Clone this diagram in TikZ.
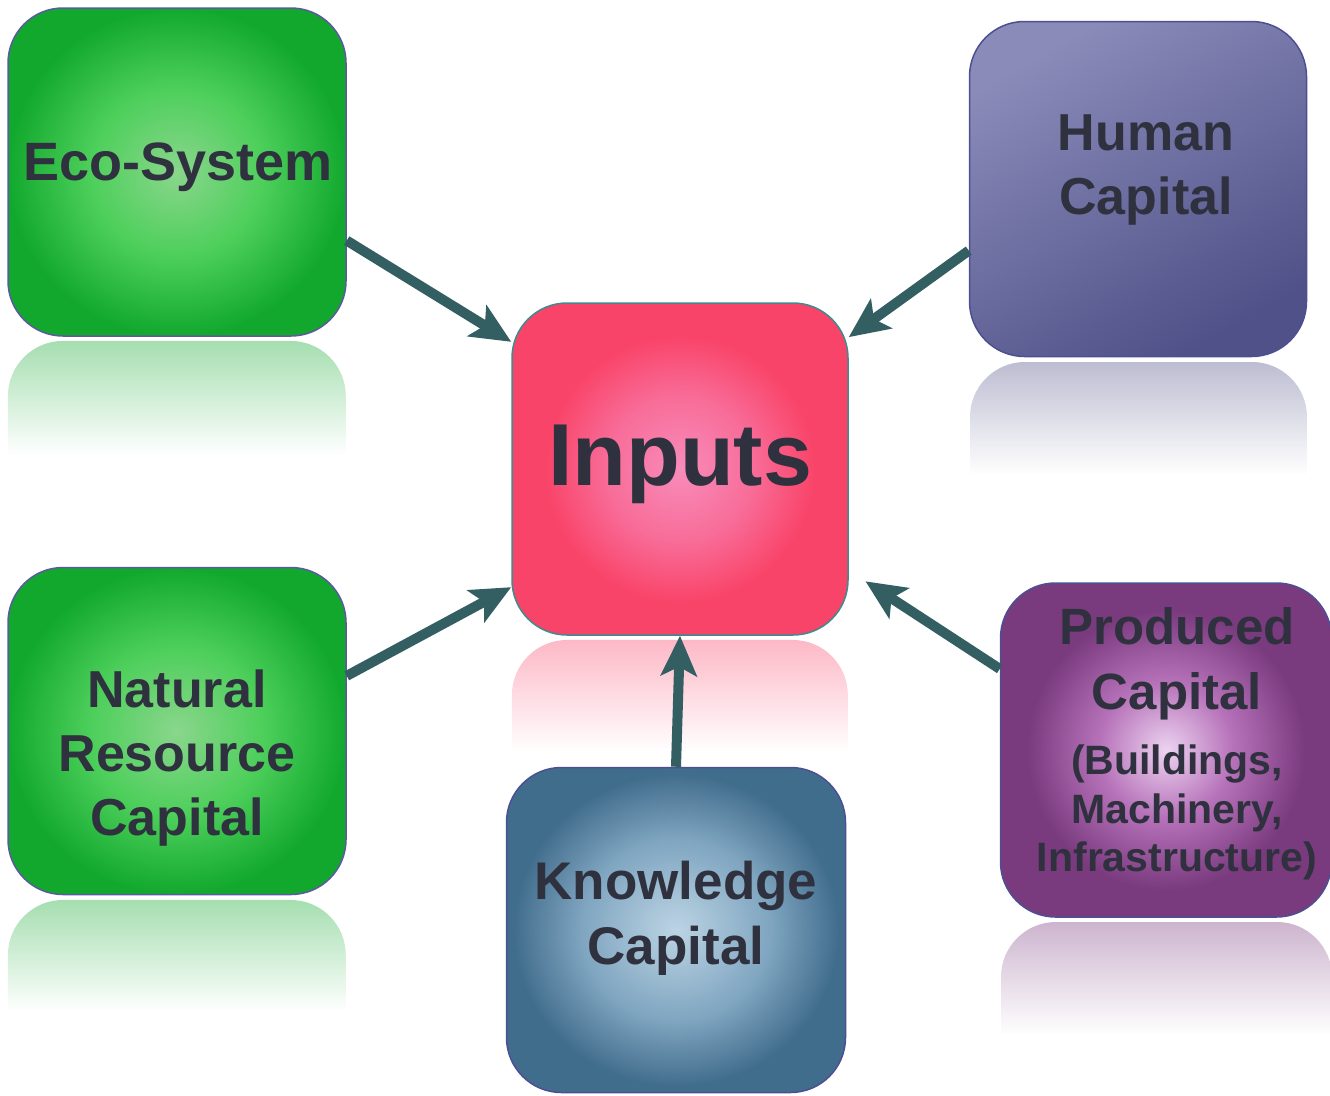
\documentclass[tikz,border=0pt]{standalone}
\usepackage{fontspec}
\setmainfont{Liberation Sans}
\usetikzlibrary{arrows.meta,fadings,shadings}

\definecolor{txtdark}{HTML}{2F313F}
\definecolor{feedteal}{HTML}{335F63}
\definecolor{ecoA}{HTML}{8AD68C}
\definecolor{ecoB}{HTML}{4CCF5A}
\definecolor{ecoC}{HTML}{12A82E}
\definecolor{ecoline}{HTML}{5B5A9E}
\definecolor{inpA}{HTML}{F88CBA}
\definecolor{inpB}{HTML}{F86C98}
\definecolor{inpC}{HTML}{F94469}
\definecolor{inpline}{HTML}{3F8A8C}
\definecolor{knowA}{HTML}{BCD4E4}
\definecolor{knowB}{HTML}{7FA5C0}
\definecolor{knowC}{HTML}{416D8C}
\definecolor{prodA}{HTML}{ECD3F0}
\definecolor{prodB}{HTML}{B773BA}
\definecolor{prodC}{HTML}{7A3A7E}
\definecolor{humA}{HTML}{8A8BB9}
\definecolor{humC}{HTML}{4F5188}
\definecolor{boxline}{HTML}{4C4F92}

\pgfdeclareradialshading{ecoglow}{\pgfpoint{0bp}{0bp}}{color(0bp)=(ecoA); color(13bp)=(ecoB); color(25bp)=(ecoC); color(50bp)=(ecoC)}
\pgfdeclareradialshading{inpglow}{\pgfpoint{0bp}{0bp}}{color(0bp)=(inpA); color(11bp)=(inpB); color(20bp)=(inpC); color(50bp)=(inpC)}
\pgfdeclareradialshading{knowglow}{\pgfpoint{0bp}{0bp}}{color(0bp)=(knowA); color(14bp)=(knowB); color(24bp)=(knowC); color(50bp)=(knowC)}
\pgfdeclareradialshading{prodglow}{\pgfpoint{0bp}{0bp}}{color(0bp)=(prodA); color(10bp)=(prodB); color(21bp)=(prodC); color(50bp)=(prodC)}

\tikzfading[name=reflfade, top color=transparent!62, bottom color=transparent!100]

% faded mirror image under a box: left, right, top, bottom, colour
\newcommand{\reflbox}[5]{%
  \fill[#5, path fading=reflfade] (#1,#4) -- (#1,#3+55) arc[start angle=180, end angle=270, radius=55]
    -- (#2-55,#3) arc[start angle=270, end angle=360, radius=55] -- (#2,#4) -- cycle;}

\tikzset{
  box/.style={draw=boxline, line width=1.5pt, rounded corners=55pt, shade, minimum width=338pt, minimum height=328pt, inner sep=0pt},
  lbl/.style={text=txtdark, font=\bfseries\fontsize{52}{64}\selectfont, align=center, anchor=north, inner sep=0pt},
  feed/.style={draw=feedteal, line width=10pt, -{Stealth[length=40pt,width=36pt,inset=9pt]}}
}

\begin{document}
\begin{tikzpicture}[x=1pt,y=-1pt]
  \useasboundingbox (0,0) rectangle (1330,1095);

  % reflections under the boxes
  \reflbox{8}{346}{341}{455}{ecoC}
  \reflbox{970}{1307}{362}{475}{humC}
  \reflbox{512}{848}{640}{752}{inpC}
  \reflbox{8}{346}{900}{1012}{ecoC}
  \reflbox{1001}{1332}{922}{1035}{prodC}

  \node[box, shading=ecoglow, draw=ecoline] (eco) at (177,172) {};
  \node[box, top color=humA, bottom color=humC, shading angle=30, minimum width=337pt, minimum height=335pt] (hum) at (1138,189) {};
  \node[box, shading=inpglow, draw=inpline, minimum width=336pt, minimum height=332pt] (inp) at (680,469) {};
  \node[box, shading=ecoglow, draw=ecoline, minimum height=327pt] (nat) at (177,731) {};
  \node[box, shading=knowglow, minimum width=339pt, minimum height=325pt] (know) at (676,930) {};
  \node[box, shading=prodglow, minimum width=331pt, minimum height=334pt] (prod) at (1166,750) {};

  \node[lbl, font=\bfseries\fontsize{54}{64}\selectfont] (ecotxt) at (178,143) {Eco-System};
  \node[lbl] (humtxt) at (1146,115) {Human\\Capital};
  \node[lbl, font=\bfseries\fontsize{88}{100}\selectfont] (inptxt) at (680,425) {Inputs};
  \node[lbl] (nattxt) at (177,670) {Natural\\Resource\\Capital};
  \node[lbl, font=\bfseries\fontsize{53}{65}\selectfont] (knowtxt) at (676,861) {Knowledge\\Capital};
  \node[lbl, font=\bfseries\fontsize{51}{65}\selectfont] (prodtxt) at (1177,607) {Produced\\Capital};
  \node[lbl, font=\bfseries\fontsize{41}{48.5}\selectfont] (prodsub) at (1177,745) {(Buildings,\\Machinery,\\Infrastructure)};

  \draw[feed] (eco.-22) -- (inp.143);
  \draw[feed] (hum.-160) -- (inp.38);
  \draw[feed] (nat.18) -- (inp.-145);
  \draw[feed] (know.north) -- (inp.south);
  \draw[feed, shorten >=20pt] (prod.154) -- (inp.-31);
\end{tikzpicture}
\end{document}
